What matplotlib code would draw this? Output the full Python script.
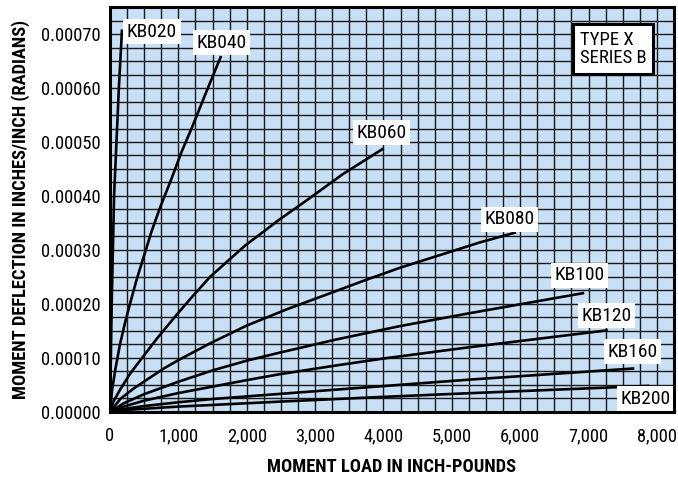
import matplotlib
matplotlib.use('Agg')
import matplotlib.pyplot as plt
from matplotlib.ticker import MultipleLocator, FuncFormatter, FormatStrFormatter

plt.rcParams['font.family'] = ['Roboto Condensed', 'Archivo Narrow', 'DejaVu Sans']

# curves: moment load (in-lb) vs deflection (rad/in)
kb020_x = [0, 25, 60, 95, 130, 175]
kb020_y = [0, 0.000200, 0.000400, 0.000500, 0.000600, 0.000706]

kb040_x = [0, 30, 80, 146, 220, 292, 390, 487, 610, 731, 900, 1048, 1200, 1400, 1618]
kb040_y = [0, 0.000040, 0.000080, 0.000125, 0.000165, 0.000200, 0.000245, 0.000285,
           0.000335, 0.000378, 0.000432, 0.000482, 0.000527, 0.000590, 0.000657]

kb060_x = [0, 50, 146, 300, 487, 700, 975, 1200, 1462, 1974, 2485, 2900, 3400, 3987]
kb060_y = [0, 0.000019, 0.000041, 0.000072, 0.000103, 0.000138, 0.000180, 0.000213,
           0.000250, 0.000308, 0.000357, 0.000394, 0.000440, 0.000487]

kb080_x = [0, 150, 341, 780, 1000, 1462, 2000, 2583, 3753, 4240, 5409, 5921]
kb080_y = [0, 0.000024, 0.000043, 0.000080, 0.000096, 0.000127, 0.000160, 0.000190,
           0.000245, 0.000267, 0.000314, 0.000332]

kb100_x = [0, 200, 500, 1000, 1500, 2000, 2485, 3300, 4240, 5263, 6918]
kb100_y = [0, 0.000016, 0.000033, 0.000056, 0.000077, 0.000095, 0.000110, 0.000134,
           0.000159, 0.000183, 0.000220]

kb120_x = [0, 200, 500, 1000, 1500, 2000, 2485, 3300, 4000, 5263, 7261]
kb120_y = [0, 0.000010, 0.000021, 0.000035, 0.000047, 0.000059, 0.000070, 0.000086,
           0.000099, 0.000120, 0.000151]

kb160_x = [0, 200, 500, 1000, 1500, 2485, 4000, 5263, 7651]
kb160_y = [0, 0.0000055, 0.000011, 0.000018, 0.000024, 0.0000335, 0.000048, 0.0000600, 0.0000805]

kb200_x = [0, 200, 500, 1000, 1500, 2485, 4000, 5263, 7870]
kb200_y = [0, 0.0000035, 0.000006, 0.000010, 0.000013, 0.0000192, 0.000028, 0.0000348, 0.0000483]

curve_names = ['KB020', 'KB040', 'KB060', 'KB080', 'KB100', 'KB120', 'KB160', 'KB200']
curves_x = [kb020_x, kb040_x, kb060_x, kb080_x, kb100_x, kb120_x, kb160_x, kb200_x]
curves_y = [kb020_y, kb040_y, kb060_y, kb080_y, kb100_y, kb120_y, kb160_y, kb200_y]

# label anchor (centre of the white box) for each curve
label_x = [614, 1637, 3977, 5848, 6871, 7266, 7646, 7836]
label_y = [0.000704, 0.000684, 0.000517, 0.000357, 0.000253, 0.000178, 0.000112, 0.0000242]

fig = plt.figure(figsize=(6.78, 4.8), dpi=100)
ax = fig.add_axes([0.1622, 0.1417, 0.8319, 0.8437])
ax.set_facecolor('#c8dff5')

for cx, cy in zip(curves_x, curves_y):
    ax.plot(cx, cy, color='black', lw=1.9, solid_joinstyle='round', zorder=3)

for name, lx, ly in zip(curve_names, label_x, label_y):
    ax.text(lx, ly, name, ha='center', va='center', fontsize=14, zorder=5,
            bbox=dict(facecolor='white', edgecolor='none', pad=2.5))

ax.text(0.833, 0.896, 'TYPE X\nSERIES B', transform=ax.transAxes, ha='left', va='center',
        fontsize=13.5, linespacing=1.05, zorder=5,
        bbox=dict(facecolor='white', edgecolor='black', linewidth=2.2, pad=5))

ax.set_xlim(0, 8250)
ax.set_ylim(0, 0.00075)
ax.xaxis.set_major_locator(MultipleLocator(1000))
ax.xaxis.set_minor_locator(MultipleLocator(250))
ax.yaxis.set_major_locator(MultipleLocator(0.0001))
ax.yaxis.set_minor_locator(MultipleLocator(0.000025))
ax.xaxis.set_major_formatter(FuncFormatter(lambda v, p: '{:,.0f}'.format(v)))
ax.yaxis.set_major_formatter(FormatStrFormatter('%.5f'))
ax.grid(True, which='both', color='#1a1a1a', lw=1.0, zorder=1)
ax.set_axisbelow(True)
ax.tick_params(which='both', length=0)
ax.tick_params(axis='x', pad=11, labelsize=13.3)
ax.tick_params(axis='y', pad=7, labelsize=13.3)
for s in ax.spines.values():
    s.set_linewidth(2.2)
    s.set_zorder(6)

ax.set_xlabel('MOMENT LOAD IN INCH-POUNDS', fontsize=13.3, fontweight='bold', labelpad=9)
ax.set_ylabel('MOMENT DEFLECTION IN INCHES/INCH (RADIANS)', fontsize=13.3, fontweight='bold', labelpad=8)

fig.savefig('out.png', dpi=100)
